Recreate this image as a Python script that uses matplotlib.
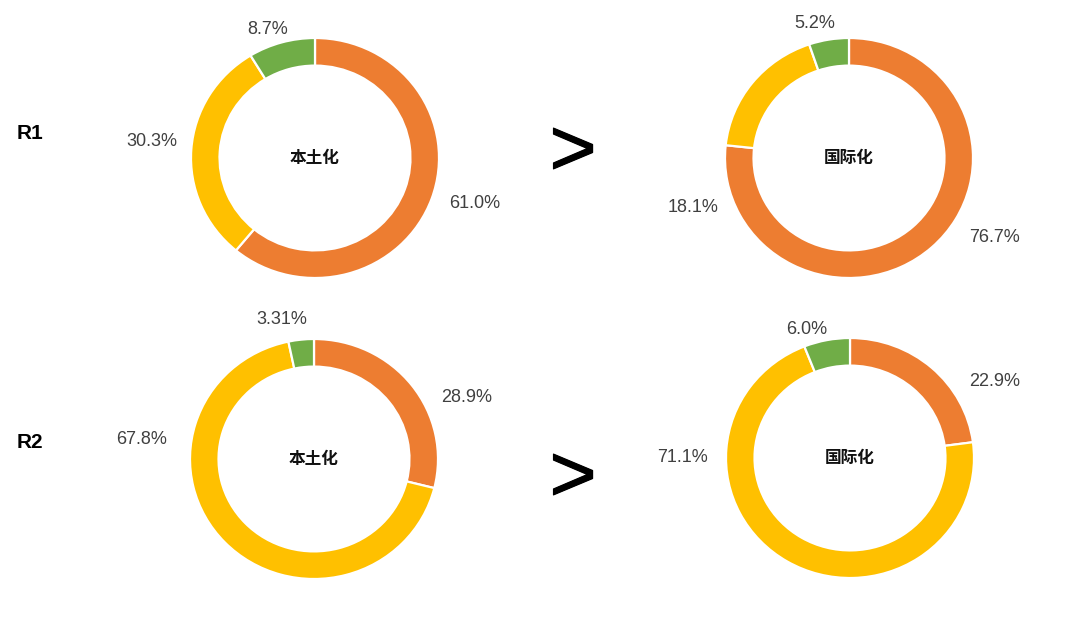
import matplotlib.pyplot as plt
import matplotlib.patheffects as pe

plt.rcParams['font.family'] = ['Liberation Sans', 'Noto Sans CJK SC', 'DejaVu Sans']

# data: shares of (orange, yellow, green) in each donut
row_names = ['R1', 'R2']
center_names = ['本土化', '国际化']
r1_local = [61.0, 30.3, 8.7]
r1_intl = [76.7, 18.1, 5.2]
r2_local = [28.9, 67.8, 3.31]
r2_intl = [22.9, 71.1, 6.0]
colors = ['#ED7D31', '#FFC000', '#70AD47']

W, H = 1080, 619
fig = plt.figure(figsize=(W / 100, H / 100), dpi=100)
fig.patch.set_facecolor('white')

def px(x, y):
    return x / W, 1 - y / H

# layout in pixels: donut centres and where each % label sits
donuts = [
    (r1_local, center_names[0], (315, 158), [(475, 203), (152, 142), (268, 30)]),
    (r1_intl, center_names[1], (849, 158), [(995, 238), (693, 207), (815, 23)]),
    (r2_local, center_names[0], (314, 459), [(467, 398), (142, 440), (282, 319)]),
    (r2_intl, center_names[1], (850, 458), [(995, 382), (682, 457), (807, 329)]),
]
rx, ry = 124, 120

for vals, name, (cx, cy), lab_pos in donuts:
    ax = fig.add_axes([(cx - rx) / W, 1 - (cy + ry) / H, 2 * rx / W, 2 * ry / H])
    ax.pie(vals, colors=colors, startangle=90, counterclock=False, radius=1,
           wedgeprops=dict(width=0.23, edgecolor='white', linewidth=1.6))
    ax.set_aspect('auto')
    ax.set_xlim(-1, 1)
    ax.set_ylim(-1, 1)
    ax.axis('off')
    ax.text(0, 0, name, ha='center', va='center', fontsize=12,
            fontweight='bold', family=['Noto Sans CJK SC'], color='#111111')
    for v, (lx, ly) in zip(vals, lab_pos):
        fig.text(*px(lx, ly), str(v) + '%', ha='center', va='center',
                 fontsize=13, color='#404040')

# row labels and ">" signs
for name, y in zip(row_names, [133, 442]):
    fig.text(*px(30, y), name, ha='center', va='center', fontsize=15,
             fontweight='bold', color='black')
for y in [154, 480]:
    fig.text(*px(573, y), '>', ha='center', va='center', fontsize=58,
             color='black',
             path_effects=[pe.withStroke(linewidth=0.8, foreground='black')])

fig.savefig('out.png', dpi=100, facecolor='white')
